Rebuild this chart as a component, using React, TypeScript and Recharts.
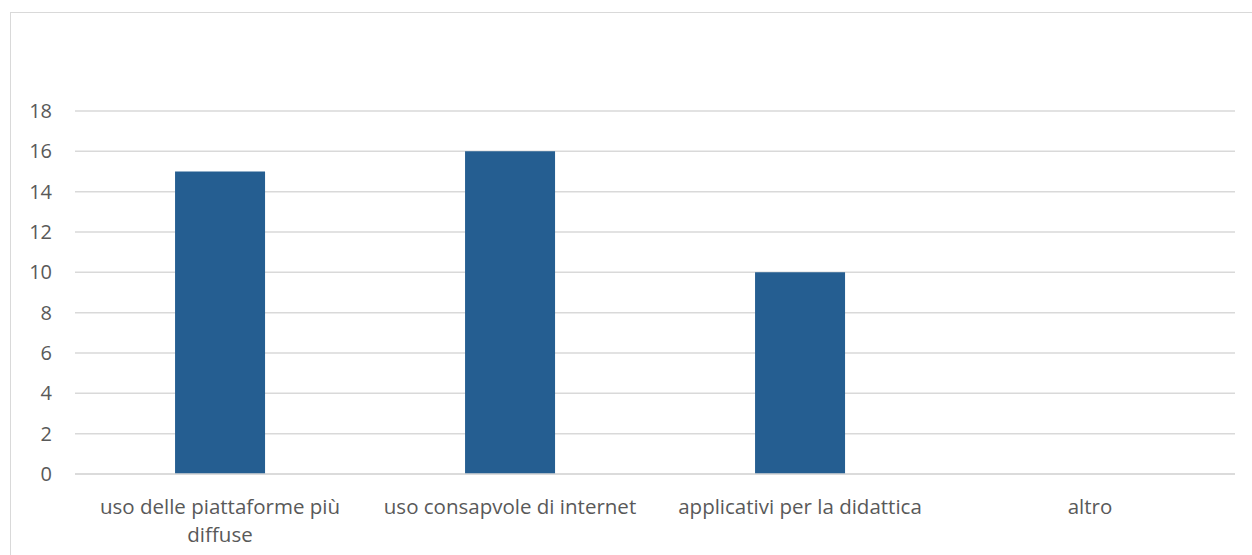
import React from 'react';
import { BarChart, Bar, XAxis, YAxis, CartesianGrid } from 'recharts';

const categories = [
    'uso delle piattaforme più diffuse',
    'uso consapvole di internet',
    'applicativi per la didattica',
    'altro',
];
const values = [15, 16, 10, 0];
const yTicks = [0, 2, 4, 6, 8, 10, 12, 14, 16, 18];

const data = categories.map((name, i) => ({ name, value: values[i] }));

const FONT = '"Open Sans", sans-serif';
const LABEL_SIZE = 20.5;
const LABEL_WIDTH = 275;

let ctx: CanvasRenderingContext2D | null = null;
const measure = (s: string) => {
    if (!ctx) ctx = document.createElement('canvas').getContext('2d');
    if (!ctx) return s.length * LABEL_SIZE * 0.5;
    ctx.font = `${LABEL_SIZE}px ${FONT}`;
    return ctx.measureText(s).width;
};

// word wrap like the original (long labels go to two lines)
const wrap = (s: string) => {
    const lines: string[] = [];
    let cur = '';
    s.split(' ').forEach(w => {
        const next = cur ? cur + ' ' + w : w;
        if (cur && measure(next) > LABEL_WIDTH) {
            lines.push(cur);
            cur = w;
        } else {
            cur = next;
        }
    });
    if (cur) lines.push(cur);
    return lines;
};

const CategoryTick = (props: any) => {
    const { x, y, payload } = props;
    const lines = wrap(String(payload.value));
    return (
        <text x={x} y={y} textAnchor="middle" fill="#595959" fontFamily={FONT} fontSize={LABEL_SIZE}>
            {lines.map((l, i) => (
                <tspan key={i} x={x} dy={i === 0 ? '0.71em' : 28}>{l}</tspan>
            ))}
        </text>
    );
};

const App = () => {
    return (
        <div style={{ position: 'absolute', left: 0, top: 0, width: 1252, height: 555, overflow: 'hidden', background: '#fff' }}>
            <div
                style={{
                    position: 'absolute',
                    left: 10,
                    top: 12,
                    width: 1270,
                    height: 570,
                    border: '1.5px solid #d9d9d9',
                }}
            />
            <div style={{ position: 'absolute', left: 0, top: 0 }}>
                <BarChart
                    width={1252}
                    height={555}
                    data={data}
                    margin={{ top: 111, right: 17, left: 0, bottom: 0 }}
                    barCategoryGap="34.5%"
                >
                    <CartesianGrid vertical={false} stroke="#d9d9d9" strokeWidth={1.5} />
                    <XAxis
                        dataKey="name"
                        height={81}
                        axisLine={{ stroke: '#d9d9d9', strokeWidth: 1.5 }}
                        tickLine={false}
                        tickMargin={19}
                        interval={0}
                        tick={<CategoryTick />}
                    />
                    <YAxis
                        width={75}
                        domain={[0, 18]}
                        ticks={yTicks}
                        interval={0}
                        axisLine={false}
                        tickLine={false}
                        tickMargin={17}
                        tick={{ fontFamily: FONT, fontSize: 20, fill: '#595959' }}
                    />
                    <Bar dataKey="value" fill="#255e91" isAnimationActive={false} />
                </BarChart>
            </div>
        </div>
    );
};

export default App;
